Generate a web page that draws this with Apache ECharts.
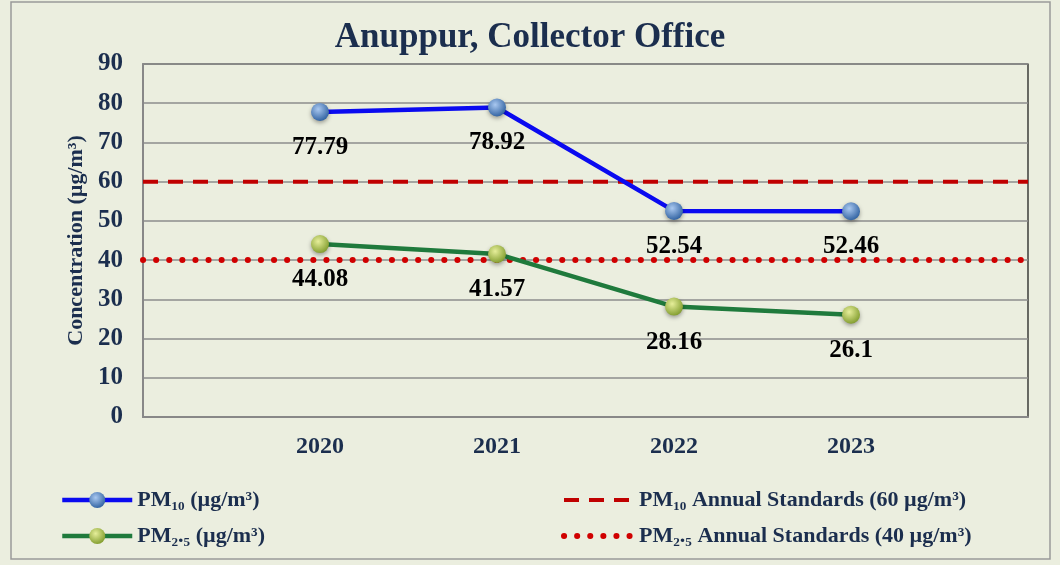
<!DOCTYPE html>
<html>
<head>
<meta charset="utf-8">
<script src="https://cdn.jsdelivr.net/npm/echarts@6/dist/echarts.min.js"></script>
<style>
html, body { margin: 0; padding: 0; background: #fff; }
#main { width: 1060px; height: 565px; }
</style>
</head>
<body>
<div id="main"></div>
<script>
// 数据
var years = ['2020', '2021', '2022', '2023'];
var pm10 = [77.79, 78.92, 52.54, 52.46];
var pm25 = [44.08, 41.57, 28.16, 26.1];
var pm10Std = 60;
var pm25Std = 40;
var yTicks = [0, 10, 20, 30, 40, 50, 60, 70, 80, 90];

// 两端留空的类目
var xData = [''].concat(years, ['']);
var pad = function (arr) { return [null].concat(arr, [null]); };
var flat = function (v) { return xData.map(function () { return v; }); };

var navy = '#1B2E4E';
var serif = '"Liberation Serif", "Times New Roman", serif';

function ball(light, dark) {
    return new echarts.graphic.RadialGradient(0.4, 0.35, 0.7, [
        { offset: 0, color: light },
        { offset: 1, color: dark }
    ]);
}

var legendText = { fontFamily: serif, fontWeight: 'bold', fontSize: 22, color: navy };
var dashStyle = { color: '#C00000', width: 4, type: [15, 10] };
var dotStyle = { color: '#D00000', width: 6, type: [0.1, 13], cap: 'round' };

var myChart = echarts.init(document.getElementById('main'));
var option = {
    backgroundColor: '#EBEEDF',
    title: {
        text: 'Anuppur, Collector Office',
        left: 'center',
        top: 15,
        textStyle: { fontFamily: serif, fontWeight: 'bold', fontSize: 35, color: navy }
    },
    graphic: [{
        type: 'rect',
        shape: { x: 11, y: 2, width: 1039, height: 557 },
        style: { fill: 'none', stroke: '#9A9A9A', lineWidth: 1.5 }
    }],
    grid: {
        left: 143, right: 32, top: 64, bottom: 148,
        show: true, borderColor: '#111', borderWidth: 1.2, backgroundColor: 'transparent'
    },
    legend: [{
        left: 55, top: 484, orient: 'vertical', itemGap: 14,
        itemWidth: 70, itemHeight: 20,
        data: [
            { name: 'PM₁₀ (µg/m³)', lineStyle: { width: 4.5 } },
            { name: 'PM₂.₅ (µg/m³)', lineStyle: { width: 4.5 } }
        ],
        textStyle: legendText
    }, {
        left: 556, top: 484, orient: 'vertical', itemGap: 14,
        itemWidth: 70, itemHeight: 20,
        data: [
            { name: 'PM₁₀ Annual Standards (60 µg/m³)', itemStyle: { opacity: 0 }, lineStyle: dashStyle },
            { name: 'PM₂.₅ Annual Standards (40 µg/m³)', itemStyle: { opacity: 0 }, lineStyle: dotStyle }
        ],
        textStyle: legendText
    }],
    xAxis: {
        type: 'category',
        data: xData,
        boundaryGap: false,
        axisLine: { lineStyle: { color: '#888', width: 2 } },
        axisTick: { show: false },
        splitLine: { show: false },
        axisLabel: { margin: 18, fontFamily: serif, fontWeight: 'bold', fontSize: 24, color: navy }
    },
    yAxis: {
        type: 'value',
        min: yTicks[0], max: yTicks[yTicks.length - 1], interval: 10,
        name: 'Concentration (µg/m³)',
        nameLocation: 'middle',
        nameGap: 56,
        nameTextStyle: { fontFamily: serif, fontWeight: 'bold', fontSize: 22, color: navy },
        axisLine: { show: true, lineStyle: { color: '#888', width: 2 } },
        axisTick: { show: false },
        splitLine: { lineStyle: { color: '#8C8C8C', width: 1.5 } },
        axisLabel: { margin: 20, fontFamily: serif, fontWeight: 'bold', fontSize: 25, color: navy }
    },
    series: [{
        name: 'PM₁₀ Annual Standards (60 µg/m³)',
        type: 'line',
        data: flat(pm10Std),
        symbol: 'none',
        z: 3,
        itemStyle: { color: '#C00000' },
        lineStyle: dashStyle
    }, {
        name: 'PM₂.₅ Annual Standards (40 µg/m³)',
        type: 'line',
        data: flat(pm25Std),
        symbol: 'none',
        z: 3,
        itemStyle: { color: '#D00000' },
        lineStyle: dotStyle
    }, {
        name: 'PM₁₀ (µg/m³)',
        type: 'line',
        data: pad(pm10),
        symbol: 'circle',
        symbolSize: 18,
        z: 5,
        lineStyle: { color: '#0A0AF0', width: 4.5 },
        itemStyle: { color: ball('#A9C8F0', '#2C5E9E'), shadowBlur: 4, shadowColor: 'rgba(0,0,0,0.35)', shadowOffsetY: 2 },
        label: {
            show: true, position: 'bottom', distance: 14,
            fontFamily: serif, fontWeight: 'bold', fontSize: 25, color: '#000'
        }
    }, {
        name: 'PM₂.₅ (µg/m³)',
        type: 'line',
        data: pad(pm25),
        symbol: 'circle',
        symbolSize: 18,
        z: 5,
        lineStyle: { color: '#1F7A3C', width: 4.5 },
        itemStyle: { color: ball('#E6EE9A', '#7E9A2A'), shadowBlur: 4, shadowColor: 'rgba(0,0,0,0.35)', shadowOffsetY: 2 },
        label: {
            show: true, position: 'bottom', distance: 14,
            fontFamily: serif, fontWeight: 'bold', fontSize: 25, color: '#000'
        }
    }]
};
myChart.setOption(option);
</script>
</body>
</html>
